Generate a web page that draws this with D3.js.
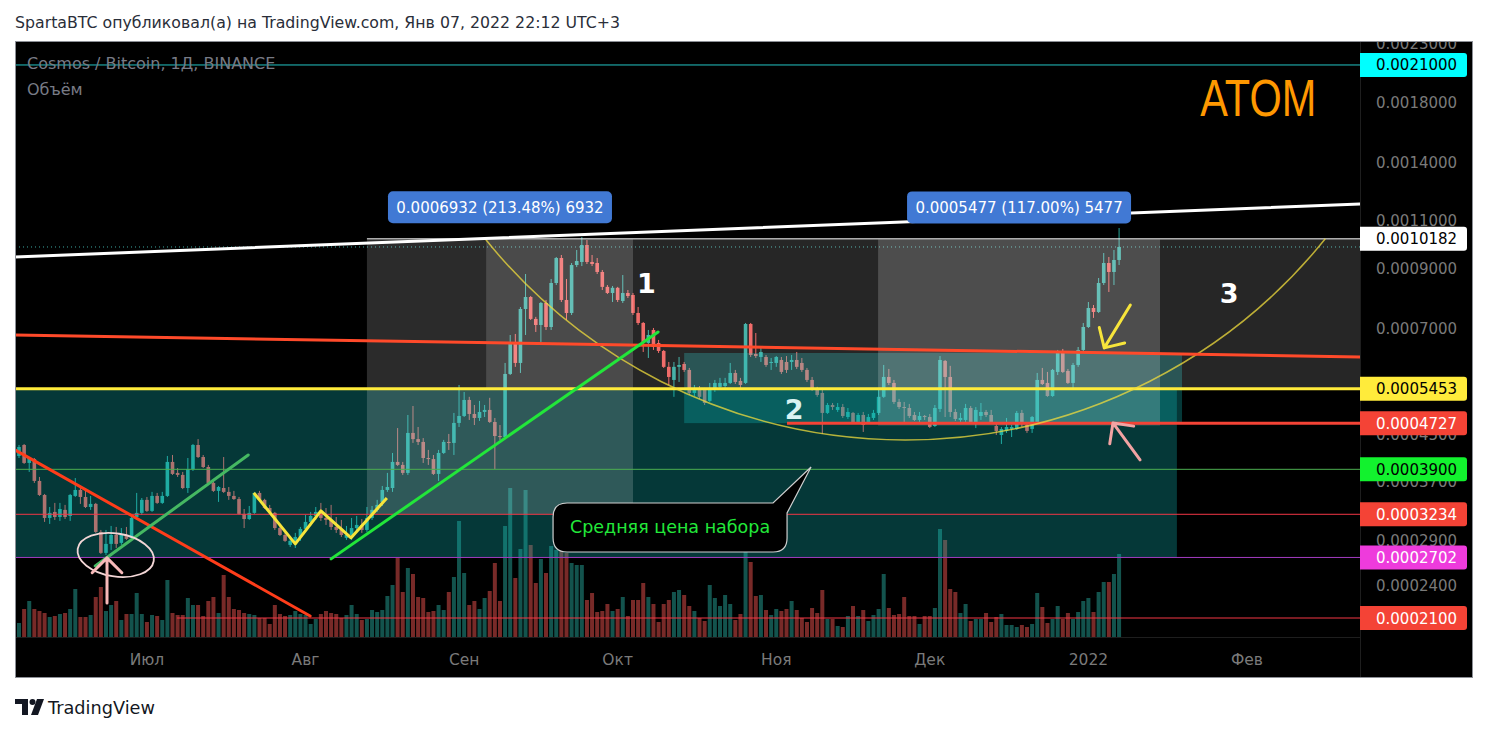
<!DOCTYPE html>
<html><head><meta charset="utf-8">
<script src="https://cdnjs.cloudflare.com/ajax/libs/d3/7.8.5/d3.min.js"></script>
<style>html,body{margin:0;padding:0;background:#fff;overflow:hidden}svg{display:block}</style>
</head><body><svg id="c" width="1489" height="732"></svg>
<script>
// ---------------- DATA ----------------
const firstDay = "2021-06-06";           // first daily candle
// daily candles ATOM/BTC in satoshi: [open, high, low, close]
const candles = [
[41230,43160,40880,42800],[43160,43340,39880,40050],[40050,41050,38580,40880],[40700,40880,36850,37160],[37160,37780,34910,35050],
[35050,35200,31330,31850],[31850,33340,31070,32530],[32660,33910,31590,31980],[31980,33910,31460,33060],[32940,33630,31710,31980],
[32120,35200,31460,35050],[34910,37610,34760,35790],[35790,36230,33770,34760],[34760,36080,33200,33340],[33340,34910,32940,33770],
[33770,33910,29930,30050],[30050,30300,27420,27540],[27540,30300,27300,28590],[28590,30810,27880,29670],[29670,30680,28110,28590],
[28710,30540,28470,29670],[29670,30680,29070,29190],[29320,31980,29070,31850],[31980,35350,31850,32530],[32530,34610,32260,34340],
[34340,34760,32660,32800],[32800,35500,32660,34910],[34910,35350,33770,33910],[33910,35500,33770,34910],[34910,41230,34760,40220],
[40220,41400,38100,38260],[38420,39210,37780,38100],[38100,38580,35920,36080],[36080,40880,35350,39040],[39040,43340,38740,43160],
[43160,44230,40880,41050],[41050,41400,39210,39380],[39380,39720,36700,36850],[36850,37320,35500,35650],[35650,36390,34050,36230],
[36080,41050,35350,35500],[35500,36230,34340,34910],[34910,35650,34340,34460],[34460,34760,32260,32390],[32390,33060,30540,31710],
[31710,33480,31590,32530],[32530,35500,32390,35350],[35350,35650,34190,34340],[34340,34500,33060,33200],[33200,33630,32530,32660],
[32530,32660,30300,30540],[30540,31070,29550,29670],[29670,29930,28830,28950],[28470,29550,28230,28950],[28950,29930,28110,29430],
[29430,30680,28950,30430],[30430,32260,30050,31330],[31330,32660,30810,32120],[32120,33340,31590,32660],[32660,33910,31460,31850],
[31850,33200,30940,31590],[31590,33630,30300,30680],[30680,31980,29930,30300],[30300,31590,29430,29670],[29320,30810,29070,29670],
[29670,31850,29070,30540],[30540,32120,30050,30940],[30940,31710,29930,30300],[30300,33340,30050,31850],[31850,33480,31590,32940],
[32940,34340,32660,33630],[34050,36390,33480,35790],[35790,38420,35500,36230],[36080,41750,35500,40220],[40220,46310,39550,39720],
[39720,40220,38100,38420],[38420,48900,38100,45380],[45380,50770,43530,44230],[44230,46520,43160,43710],[43710,44420,40050,40880],
[40880,42280,39720,40700],[40700,41400,38100,38260],[38260,42280,37160,41750],[41750,44080,41580,43710],[43710,45190,42280,43530],
[43530,49320,41400,47310],[47310,55410,46520,48700],[48700,53820,48490,52060],[52060,52740,47900,49110],[49110,50980,46900,48300],
[48300,51850,47700,49520],[49520,50980,48490,49940],[49940,52520,47310,47500],[47500,48300,39040,44800],[44800,46900,44080,44610],
[44610,60730,44230,58010],[58010,68230,57760,66000],[66000,68520,59750,60730],[60730,76660,58250,76030],[76030,87950,68230,79920],
[79920,80250,72630,72950],[72950,73570,69090,71130],[71130,78280,66280,77960],[77960,78940,69670,70540],[70540,86150,69670,84720],
[84720,94400,84010,94010],[94010,95190,78280,78940],[78940,86150,72630,74780],[74780,92080,74150,91300],[91300,97200,90530,92850],
[92470,102590,90920,99230],[99230,101330,91690,92470],[92470,95190,90920,91690],[92080,94010,87950,88700],[88700,89440,82290,83360],
[83360,84010,80930,81270],[81270,83680,78280,83040],[83040,83360,78280,78940],[78610,87580,77960,81270],[81270,82290,79590,80250],
[80590,81270,74150,74780],[74780,76660,71130,71730],[71730,72030,63570,66000],[66000,69670,62000,68230],[69670,70250,64110,64900],
[66000,66830,63310,63840],[63840,64110,59480,59750],[59750,60980,55410,57290],[56580,60980,52740,59750],[59750,62260,56110,60220],
[60470,60980,58500,58990],[58990,59480,53150,53600],[53600,55410,52920,54270],[54510,55170,52290,52740],[54270,54740,50980,51410],
[51850,55880,51630,54510],[54270,56580,53820,55880],[54980,57070,54510,55880],[55170,57070,54740,55880],[55880,60730,55640,58250],
[58250,58990,55640,56110],[56350,57070,54740,55410],[55880,71730,55640,71430],[71430,71730,62260,62780],[63040,68800,62000,62510],
[62260,64900,60980,63570],[62260,62780,59750,60220],[60730,62000,58990,60980],[60730,62510,59750,62260],[61490,62260,58010,58500],
[60980,62510,58250,58990],[60980,62780,58990,61490],[61490,63570,59230,59750],[60730,62000,58500,58990],[58990,59480,56110,56580],
[56580,57290,54050,54270],[54270,54980,52740,53150],[53600,54740,45190,49320],[49320,51410,49110,50980],[50980,51410,49940,50550],
[49940,51410,49520,50550],[50550,51200,48300,48700],[48490,50350,48100,49520],[49320,49520,47110,47310],[47500,49320,47110,48900],
[48900,49520,45570,46900],[47500,49110,47110,48490],[48300,49940,47900,49320],[49320,54270,48900,52740],[52740,60220,52520,57290],
[57290,59230,55410,55880],[55880,56580,51200,51630],[51630,52290,50150,50550],[50550,51630,47500,50350],[50350,51200,48300,48700],
[48900,49520,47700,47900],[47900,49520,47500,48700],[48700,48900,47900,48490],[48490,49110,46310,46520],[46710,50980,46520,50350],
[50150,62510,49520,61490],[61240,61490,48490,57290],[57290,60000,48490,49520],[49520,50150,47700,48100],[47900,49320,47500,48300],
[47900,51200,47500,50350],[50350,50770,47110,47500],[47500,50550,46310,49940],[48700,51410,47900,49520],[49520,49940,48490,48900],
[48900,49940,47110,47500],[46710,47310,44990,45760],[44990,46520,43340,46140],[45760,48300,45380,46520],[46140,46900,44610,46520],
[46140,49730,45950,49320],[49320,49940,46520,47310],[46900,47310,45380,45760],[46140,48700,45380,48490],[47500,58250,47310,56580],
[56580,59480,55410,55640],[55880,58500,52740,52920],[52920,59230,52740,58990],[58500,64110,57760,63310],[63310,64380,58250,58500],
[58740,59230,55640,55880],[55880,60730,54270,60220],[60220,64900,59750,64110],[64110,71730,63570,70540],[70540,78280,70250,76350],
[76350,77300,73260,75090],[75090,86500,74780,84720],[84720,95990,84010,92080],[92080,94400,81610,88700],[88700,97200,84010,93240],
[93240,106520,91300,98430]
];
// daily volume (relative units)
const volumes = [
14,28,36,28,26,24,20,21,23,24, 28,48,20,20,22,40,50,26,32,36, 17,23,23,44,23,15,22,21,17,57,
24,22,22,39,32,32,21,36,40,24, 62,40,28,27,24,23,22,19,19,13, 32,23,21,22,26,23,22,13,18,23,
26,24,23,19,22,32,23,17,18,27, 25,27,41,52,80,
45,69,63,40,39,25,26,32,27,45, 60,116,64,32,36,28,39,46,74,36, 111,149,59,88,147,92,54,78,64,91,
87,93,84,74,72,72,37,44,25,26, 33,26,28,40,21,37,37,54,40,33, 15,33,37,45,47,42,31,26,19,16,
52,39,31,42,33,17,23,85,75,41, 42,27,22,28,26,28,36,27,19,15, 29,24,47,18,18,11,10,21,31,21,
27,16,22,28,63,29,22,23,40,21, 21,13,21,21,29,108,97,48,45,24, 33,16,18,18,24,15,20,23,12,12,
10,12,10,13,44,30,14,18,31,18, 24,18,25,36,39,25,45,55,55,63, 83
];
const monthTickDates = ["2021-07-01","2021-08-01","2021-09-01","2021-10-01","2021-11-01","2021-12-01","2022-01-01","2022-02-01"];
const monthTickLabels = ["Июл","Авг","Сен","Окт","Ноя","Дек","2022","Фев"];
const priceTicks = [0.0023,0.0018,0.0014,0.0011,0.0009,0.0007,0.00055,0.00045,0.00037,0.00029,0.00024];
// horizontal levels (price) and the day index where each starts
const levelPrices = [0.0021,0.0010182,0.0005453,0.0004727,0.00039,0.0003234,0.0002702,0.00021];
const levelStartDays = [-5,68,-5,150.1,-5,-5,-5,30.9];
// drawings in (day index from first candle, price)
const trendLines = [
  [-0.8,0.000944,262.1,0.0011772],
  [-0.8,0.0006823,262.1,0.0006226],
  [-0.8,0.0004228,56.9,0.0002118],
  [14.9,0.0002608,44.8,0.000414],
  [61.0,0.0002686,124.9,0.0006909]
];
const zigzagDays = [45.9,54.0,59.0,64.9,71.9];
const zigzagPrices = [0.0003535,0.0002859,0.000328,0.0002932,0.0003461];
const boxes = [ // [dayFrom, dayTo, priceTop, priceBottom]
  [-5,226.3,0.0005453,0.0002702],
  [130.0,227.3,0.000633,0.0004727],
  [91.3,270,0.0010182,0.0005453],
  [68.0,120.0,0.0010166,0.0003234],
  [167.9,223.0,0.0010158,0.0004681]
];
const measureTexts = ["0.0006932 (213.48%) 6932","0.0005477 (117.00%) 5477"];
const arcDays = [91.1,173.2,255.3];
const arcPrices = [0.0010182,0.00044076,0.0010182];
const arrows = [ // [tailDay, tailPrice, tipDay, tipPrice]
  [17.2,0.0002236,17.2,0.0002697],
  [219.1,0.0004056,213.8,0.0004731],
  [217.2,0.000773,212.1,0.0006466]
];
const ellipseCenter = [18.9,0.000273];
const numberLabels = ["1","2","3"];
const numberDays = [122.6,151.5,236.5];
const numberPrices = [0.0008127,0.000481,0.00077957];
const calloutText = "Средняя цена набора";
const calloutTip = [154.8,0.0003938];
const titleText = "ATOM";
const titlePos = [242.2,0.0016981];
const headerText = "SpartaBTC опубликовал(а) на TradingView.com, Янв 07, 2022 22:12 UTC+3";
const legendLines = ["Cosmos / Bitcoin, 1Д, BINANCE","Объём"];

// ---------------- CHART ----------------
const FONT = "DejaVu Sans, sans-serif";
const svg = d3.select("#c");
const DAY = 864e5;
const t0 = Date.parse(firstDay + "T00:00:00Z");
const pane = {l:15, t:41, r:1360, b:637};
const x = d3.scaleUtc().domain([new Date(t0), new Date(Date.parse("2022-02-01T00:00:00Z"))]).range([19, 1247]);
const xd = d => x(new Date(t0 + d*DAY));
const y = d3.scaleLog().domain([0.00021, 0.0018]).range([618, 102]);
const yv = d3.scaleLinear().domain([0,150]).range([637,487]);
const sat = v => v*1e-8;

// header
svg.append("text").attr("x",15).attr("y",28).attr("font-family",FONT).attr("font-size",15.5)
  .attr("textLength",605).attr("lengthAdjust","spacingAndGlyphs")
  .attr("fill","#2a2e39").text(headerText);

// frame
svg.append("rect").attr("x",15).attr("y",41).attr("width",1458).attr("height",637).attr("fill","#000");
const defs = svg.append("defs");
defs.append("clipPath").attr("id","pane").append("rect")
  .attr("x",pane.l).attr("y",pane.t).attr("width",pane.r-pane.l).attr("height",pane.b-pane.t);
defs.append("clipPath").attr("id","frame").append("rect")
  .attr("x",15).attr("y",41).attr("width",1458).attr("height",637);

const g = svg.append("g").attr("clip-path","url(#pane)");

// volume
g.append("g").selectAll("rect").data(volumes).join("rect")
  .attr("x",(v,i)=>xd(i)-2).attr("width",4)
  .attr("y",v=>yv(v)).attr("height",v=>yv(0)-yv(v))
  .attr("fill",(v,i)=> candles[i][3]>=candles[i][0] ? "rgba(38,166,154,0.5)" : "rgba(239,83,80,0.5)");

// candles
const up = "#26a69a", dn = "#ef5350";
const cg = g.append("g");
cg.selectAll("line").data(candles).join("line")
  .attr("x1",(c,i)=>xd(i)).attr("x2",(c,i)=>xd(i))
  .attr("y1",c=>y(sat(c[1]))).attr("y2",c=>y(sat(c[2])))
  .attr("stroke",c=>c[3]>=c[0]?up:dn).attr("stroke-width",1);
cg.selectAll("rect").data(candles).join("rect")
  .attr("x",(c,i)=>xd(i)-1.8).attr("width",3.6)
  .attr("y",c=>y(sat(Math.max(c[0],c[3]))))
  .attr("height",c=>Math.max(1,Math.abs(y(sat(c[0]))-y(sat(c[3])))))
  .attr("fill",c=>c[3]>=c[0]?up:dn);

// last price dotted line
const lastClose = sat(candles[candles.length-1][3]);
g.append("line").attr("x1",pane.l).attr("x2",pane.r).attr("y1",y(lastClose)).attr("y2",y(lastClose))
  .attr("stroke","#3aa6a0").attr("stroke-width",1).attr("stroke-dasharray","1,3");

// boxes
const boxFill = ["rgba(17,187,187,0.30)","rgba(17,187,187,0.30)","rgba(255,255,255,0.15)","rgba(255,255,255,0.17)","rgba(255,255,255,0.18)"];
g.append("g").selectAll("rect").data(boxes).join("rect")
  .attr("x",b=>xd(b[0])).attr("width",b=>xd(b[1])-xd(b[0]))
  .attr("y",b=>y(b[2])).attr("height",b=>y(b[3])-y(b[2]))
  .attr("fill",(b,i)=>boxFill[i]);

// number labels
const numFill = ["#ffffff","#d8f2f2","#ffffff"];
g.append("g").selectAll("text").data(numberLabels).join("text")
  .attr("x",(t,i)=>xd(numberDays[i])).attr("y",(t,i)=>y(numberPrices[i]))
  .attr("text-anchor","middle").attr("font-family",FONT).attr("font-weight","bold").attr("font-size",27)
  .attr("fill",(t,i)=>numFill[i]).text(t=>t);

// level lines
const levelColor = ["#22c4c4","#ffffff","#ffeb3b","#f44336","#4caf50","#f23645","#a23cc0","#f23645"];
const levelWidth = [1,1,3,3,1,1,1,1];
g.append("g").selectAll("line").data(levelPrices).join("line")
  .attr("x1",(p,i)=>xd(levelStartDays[i])).attr("x2",pane.r+5)
  .attr("y1",p=>y(p)).attr("y2",p=>y(p))
  .attr("stroke",(p,i)=>levelColor[i]).attr("stroke-width",(p,i)=>levelWidth[i]);

// arc (circle through 3 points)
(function(){
  const P = arcDays.map((d,i)=>[xd(d), y(arcPrices[i])]);
  const [a,b,c] = P;
  const D = 2*(a[0]*(b[1]-c[1])+b[0]*(c[1]-a[1])+c[0]*(a[1]-b[1]));
  const ux = ((a[0]**2+a[1]**2)*(b[1]-c[1])+(b[0]**2+b[1]**2)*(c[1]-a[1])+(c[0]**2+c[1]**2)*(a[1]-b[1]))/D;
  const uy = ((a[0]**2+a[1]**2)*(c[0]-b[0])+(b[0]**2+b[1]**2)*(a[0]-c[0])+(c[0]**2+c[1]**2)*(b[0]-a[0]))/D;
  const r = Math.hypot(a[0]-ux,a[1]-uy);
  const cross = (b[0]-a[0])*(c[1]-a[1])-(b[1]-a[1])*(c[0]-a[0]);
  const sweep = cross>0?1:0;
  const sideB = (c[0]-a[0])*(b[1]-a[1])-(c[1]-a[1])*(b[0]-a[0]);
  const sideU = (c[0]-a[0])*(uy-a[1])-(c[1]-a[1])*(ux-a[0]);
  const large = (sideB*sideU>0)?1:0;
  g.append("path").attr("d",`M${a[0]},${a[1]} A${r},${r} 0 ${large} ${sweep} ${c[0]},${c[1]}`)
    .attr("fill","none").attr("stroke","rgba(240,220,60,0.75)").attr("stroke-width",1.5);
})();

// trend lines
const tlColor = ["#ffffff","#ff4a2a","#ff3d1a","#45b862","#22e63a"];
g.append("g").selectAll("line").data(trendLines).join("line")
  .attr("x1",t=>xd(t[0])).attr("y1",t=>y(t[1])).attr("x2",t=>xd(t[2])).attr("y2",t=>y(t[3]))
  .attr("stroke",(t,i)=>tlColor[i]).attr("stroke-width",3).attr("stroke-linecap","round");

// zigzag
g.append("path").datum(zigzagDays.map((d,i)=>[d,zigzagPrices[i]]))
  .attr("d",d3.line().x(p=>xd(p[0])).y(p=>y(p[1])))
  .attr("fill","none").attr("stroke","#f7e53b").attr("stroke-width",3).attr("stroke-linejoin","round");

// ellipse
{
  const ex = xd(ellipseCenter[0]), ey = y(ellipseCenter[1]);
  g.append("ellipse").attr("cx",ex).attr("cy",ey).attr("rx",38.5).attr("ry",21.5)
    .attr("transform",`rotate(9,${ex},${ey})`)
    .attr("fill","none").attr("stroke","#f3d6d6").attr("stroke-width",1.8);
}

// arrows
const arrowColor = ["#f7b9b9","#f2a3a3","#f7e53b"];
arrows.forEach((a,i)=>{
  const x1=xd(a[0]), y1=y(a[1]), x2=xd(a[2]), y2=y(a[3]);
  const ang=Math.atan2(y2-y1,x2-x1), L=21, h=Math.PI/4;
  const p1=[x2-L*Math.cos(ang-h), y2-L*Math.sin(ang-h)];
  const p2=[x2-L*Math.cos(ang+h), y2-L*Math.sin(ang+h)];
  g.append("path").attr("d",`M${x1},${y1}L${x2},${y2}M${p1[0]},${p1[1]}L${x2},${y2}L${p2[0]},${p2[1]}`)
    .attr("fill","none").attr("stroke",arrowColor[i]).attr("stroke-width",3)
    .attr("stroke-linecap","round").attr("stroke-linejoin","round");
});

// measure labels above boxes 1 and 3
[boxes[3],boxes[4]].forEach((b,i)=>{
  const cx=(xd(b[0])+xd(b[1]))/2, top=y(b[2]);
  const w=224, hgt=32;
  g.append("rect").attr("x",cx-w/2).attr("y",top-16-hgt).attr("width",w).attr("height",hgt)
    .attr("rx",5).attr("fill","#4179d4");
  g.append("text").attr("x",cx).attr("y",top-16-hgt/2+5.5).attr("text-anchor","middle")
    .attr("font-family",FONT).attr("font-size",15).attr("fill","#fff").text(measureTexts[i]);
});

// callout
{
  const tx=xd(calloutTip[0]), ty=y(calloutTip[1]);
  const L=tx-258, R=tx-24, T=ty+36, B=ty+85, r=14;
  const d=`M${L+r},${T} L${tx-38},${T} L${tx},${ty} L${R},${T+10} L${R},${B-r} Q${R},${B} ${R-r},${B} L${L+r},${B} Q${L},${B} ${L},${B-r} L${L},${T+r} Q${L},${T} ${L+r},${T} Z`;
  g.append("path").attr("d",d).attr("fill","#000").attr("stroke","#cfcfcf").attr("stroke-width",1.2);
  g.append("text").attr("x",(L+R)/2).attr("y",(T+B)/2+6).attr("text-anchor","middle")
    .attr("font-family",FONT).attr("font-size",17.5).attr("fill","#22e83a").text(calloutText);
}

// ATOM title
g.append("text").attr("x",xd(titlePos[0])).attr("y",y(titlePos[1])).attr("text-anchor","middle")
  .attr("font-family","Liberation Sans Narrow, Liberation Sans, sans-serif").attr("font-size",52)
  .attr("textLength",116).attr("lengthAdjust","spacingAndGlyphs")
  .attr("fill","#ff9800").text(titleText);

// legend
g.append("g").selectAll("text").data(legendLines).join("text")
  .attr("x",27).attr("y",(t,i)=>69+i*26).attr("font-family",FONT).attr("font-size",16)
  .attr("fill","#787b86").text(t=>t);

// separators
svg.append("line").attr("x1",15).attr("x2",1360).attr("y1",637.5).attr("y2",637.5).attr("stroke","#1e1e1e");
svg.append("line").attr("x1",1360.5).attr("x2",1360.5).attr("y1",41).attr("y2",678).attr("stroke","#1e1e1e");

// time axis
svg.append("g").selectAll("text").data(monthTickDates).join("text")
  .attr("x",d=>x(new Date(Date.parse(d+"T00:00:00Z")))).attr("y",665).attr("text-anchor","middle")
  .attr("font-family",FONT).attr("font-size",15.5).attr("fill","#7a7a7a").text((d,i)=>monthTickLabels[i]);

// price axis
const pa = svg.append("g").attr("clip-path","url(#frame)");
pa.selectAll("text.t").data(priceTicks).join("text").attr("class","t")
  .attr("x",1376).attr("y",p=>y(p)+5.5).attr("font-family",FONT).attr("font-size",15)
  .attr("fill","#7a7a7a").text(p=>p.toFixed(7));
const labelBg = ["#00ffff","#ffffff","#ffeb3b","#f44336","#12f22e","#f44336","#ee3bdc","#f44336"];
const labelFg = ["#000","#000","#000","#fff","#000","#fff","#fff","#fff"];
levelPrices.forEach((p,i)=>{
  pa.append("path").attr("d",`M1360,${y(p)-12}H1464q3,0 3,3V${y(p)+9}q0,3 -3,3H1360Z`).attr("fill",labelBg[i]);
  pa.append("text").attr("x",1376).attr("y",y(p)+5.5).attr("font-family",FONT).attr("font-size",15)
    .attr("fill",labelFg[i]).text(p.toFixed(7));
});

// frame border
svg.append("rect").attr("x",15.5).attr("y",41.5).attr("width",1457).attr("height",636)
  .attr("fill","none").attr("stroke","#8c8f96");

// footer logo
const lg = svg.append("g").attr("fill","#131722");
lg.append("path").attr("d","M15,699H28V715H22V704H15Z");
lg.append("circle").attr("cx",32.5).attr("cy",702).attr("r",3);
lg.append("path").attr("d","M37,699H44L38,715H31Z");
svg.append("text").attr("x",48).attr("y",714).attr("font-family",FONT).attr("font-size",18)
  .attr("textLength",107).attr("lengthAdjust","spacingAndGlyphs")
  .attr("fill","#131722").text("TradingView");
</script></body></html>
